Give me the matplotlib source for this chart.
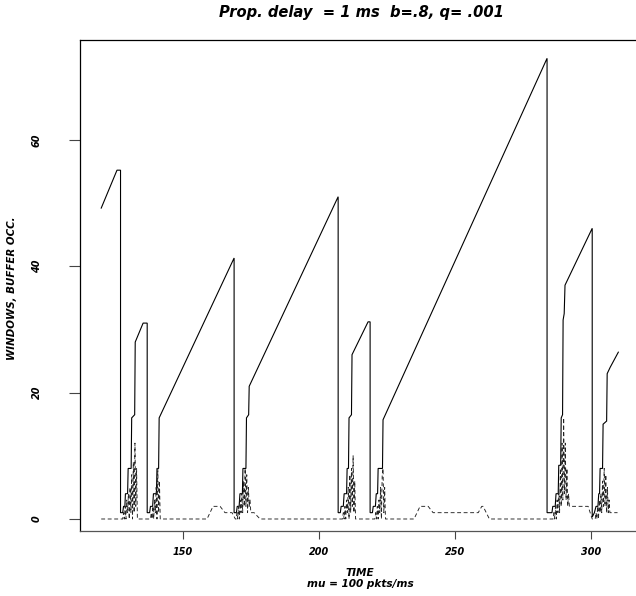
import matplotlib
matplotlib.use("Agg")
import matplotlib.pyplot as plt

# ---------------- data ----------------
win_time = [119.9, 125.7, 127.0, 127.0, 127.8, 128.1, 128.6, 128.8, 129.6, 129.8, 130.9, 131.1,
            132.2, 132.4, 135.3, 136.8,
            136.8, 137.7, 138.0, 138.8, 139.1, 140.2, 140.4, 141.0, 141.2, 168.75,
            168.75, 169.6, 169.9, 170.6, 170.9, 171.8, 172.0, 173.1, 173.3, 174.1, 174.3, 207.0,
            207.0, 207.8, 208.1, 208.9, 209.2, 210.1, 210.3, 210.8, 211.0, 211.9, 212.1, 218.0, 218.75,
            218.75, 219.6, 219.9, 220.7, 221.0, 221.5, 221.7, 223.3, 223.5, 283.8,
            283.8, 285.6, 285.9, 286.8, 287.1, 287.9, 288.1, 288.8, 289.0, 289.5, 289.7, 290.1, 290.4, 300.4,
            300.4, 301.2, 301.8, 302.5, 302.8, 303.1, 303.3, 304.2, 304.4, 305.7, 305.9, 307.0, 310.0]
win_values = [49.2, 55.2, 55.2, 1.0, 1.0, 2.0, 2.0, 4.0, 4.0, 8.0, 8.0, 16.0,
              16.5, 28.0, 31.0, 31.0,
              1.0, 1.0, 2.0, 2.0, 4.0, 4.0, 8.0, 8.0, 16.0, 41.3,
              1.0, 1.0, 2.0, 2.0, 4.0, 4.0, 8.0, 8.0, 16.0, 16.5, 21.0, 51.0,
              1.0, 1.0, 2.0, 2.0, 4.0, 4.0, 8.0, 8.0, 16.0, 16.5, 26.0, 31.2, 31.2,
              1.0, 1.0, 2.0, 2.0, 4.0, 4.0, 8.0, 8.0, 15.7, 72.9,
              1.0, 1.0, 2.0, 2.0, 4.0, 4.0, 8.5, 8.5, 16.0, 16.5, 31.5, 32.5, 37.0, 46.0,
              0.3, 1.0, 2.0, 2.0, 4.0, 4.0, 8.0, 8.0, 15.0, 15.5, 23.0, 24.0, 26.4]

buf_time = [119.9, 127.8, 128.1, 128.4, 128.7, 129.0, 129.3, 129.6, 129.9, 130.2, 130.5, 130.8,
            131.1, 131.4, 131.7, 132.0, 132.3, 132.6, 132.9, 133.2,
            138.0, 138.3, 138.6, 138.9, 139.2, 139.5, 139.8, 140.1, 140.4, 140.7, 141.0, 141.3, 141.6,
            158.8, 161.0, 163.6, 165.4, 168.0, 169.2,
            169.5, 169.8, 170.1, 170.4, 170.7, 171.0, 171.3, 171.6, 171.9, 172.2, 172.5, 172.8,
            173.1, 173.4, 173.7, 174.0, 174.3, 174.6, 174.9, 176.1, 178.3,
            208.6, 208.9, 209.2, 209.5, 209.8, 210.1, 210.4, 210.7, 211.0, 211.3, 211.6, 211.9,
            212.2, 212.5, 212.8, 213.1, 213.4,
            220.5, 220.8, 221.1, 221.4, 221.7, 222.0, 222.3, 222.6, 222.9, 223.2, 223.5, 223.8,
            224.1, 224.4,
            234.9, 237.1, 240.1, 241.9, 258.5, 259.8, 260.3, 262.6,
            286.0, 286.3, 286.6, 286.9, 287.2, 287.5, 287.8, 288.1, 288.4, 288.7, 289.0, 289.3,
            289.6, 289.9, 290.2, 290.5, 290.8, 291.1, 291.4, 291.7, 292.0, 298.9, 300.4,
            301.5, 301.8, 302.1, 302.4, 302.7, 303.0, 303.3, 303.6, 303.9, 304.2, 304.5, 304.8,
            305.1, 305.4, 305.7, 306.0, 306.3, 306.6, 306.9, 309.7]
buf_values = [0, 0, 1, 0, 2, 0, 3, 1, 4, 0, 5, 1,
              7, 0, 9, 1, 12, 2, 8, 0,
              0, 1, 0, 2, 0, 3, 1, 5, 0, 8, 1, 6, 0,
              0, 2, 2, 1, 1, 0,
              0, 1, 0, 2, 0, 3, 1, 4, 1, 6, 2, 8,
              2, 7, 1, 5, 2, 3, 1, 1, 0,
              0, 1, 0, 2, 0, 3, 1, 5, 0, 7, 1, 8,
              2, 10, 1, 6, 0,
              0, 1, 0, 2, 0, 3, 1, 5, 0, 7, 8, 1,
              5, 0,
              0, 2, 2, 1, 1, 2, 2, 0,
              0, 1, 0, 2, 0, 3, 1, 5, 1, 8, 2, 12,
              3, 16, 4, 12, 3, 8, 2, 4, 2, 2, 0,
              0, 1, 0, 2, 0, 3, 1, 4, 1, 6, 2, 8,
              2, 7, 1, 5, 1, 3, 1, 1]

x_ticks = [150, 200, 250, 300]
y_ticks = [0, 20, 40, 60]

title_text = "Prop. delay  = 1 ms  b=.8, q= .001"
xlabel_text = "TIME"
sublabel_text = "mu = 100 pkts/ms"
ylabel_text = "WINDOWS, BUFFER OCC."

# ---------------- figure ----------------
W, H = 636, 596
DPI = 100
fig = plt.figure(figsize=(W / DPI, H / DPI), dpi=DPI)

left_px, right_px, top_px, bottom_px = 80, 639, 40, 531
XLIM = (112.1, 317.6)
YLIM = (-1.9, 75.8)
ax = fig.add_axes([left_px / W, 1 - bottom_px / H,
                   (right_px - left_px) / W, (bottom_px - top_px) / H])

ax.plot(win_time, win_values, color="black", lw=0.8, solid_joinstyle="miter")
ax.plot(buf_time, buf_values, color="#222222", lw=0.65, dashes=(4.3, 2.9))

ax.set_xlim(*XLIM)
ax.set_ylim(*YLIM)

for s in ax.spines.values():
    s.set_linewidth(0.9)
    s.set_color("black")
ax.spines["right"].set_visible(False)
ax.spines["bottom"].set_color("#555555")

font = dict(family="DejaVu Sans", weight="bold", style="italic")

ax.set_xticks(x_ticks)
ax.set_yticks(y_ticks)
ax.set_xticklabels([])
ax.set_yticklabels([])
ax.tick_params(axis="x", direction="out", length=5.8, width=0.8, color="#444444")
ax.tick_params(axis="y", direction="out", length=8.0, width=0.8, color="#444444")

def px2fig(x, y):
    return x / W, 1 - y / H

# x tick labels
for t in x_ticks:
    xp = left_px + (t - XLIM[0]) / (XLIM[1] - XLIM[0]) * (right_px - left_px)
    fig.text(*px2fig(xp, 552), str(t), ha="center", va="center", fontsize=6.9, **font)

# y tick labels
for v in y_ticks:
    yp = bottom_px - (v - YLIM[0]) / (YLIM[1] - YLIM[0]) * (bottom_px - top_px)
    fig.text(*px2fig(37, yp), str(v), ha="center", va="center", rotation=90, fontsize=6.9, **font)

fig.text(*px2fig(361, 12), title_text, ha="center", va="center", fontsize=10.6, **font)
fig.text(*px2fig(360, 573), xlabel_text, ha="center", va="center", fontsize=7.6, **font)
fig.text(*px2fig(360, 584), sublabel_text, ha="center", va="center", fontsize=7.6, **font)
fig.text(*px2fig(12, 288), ylabel_text, ha="center", va="center", rotation=90, fontsize=7.4, **font)

fig.savefig("out.png", dpi=DPI)
